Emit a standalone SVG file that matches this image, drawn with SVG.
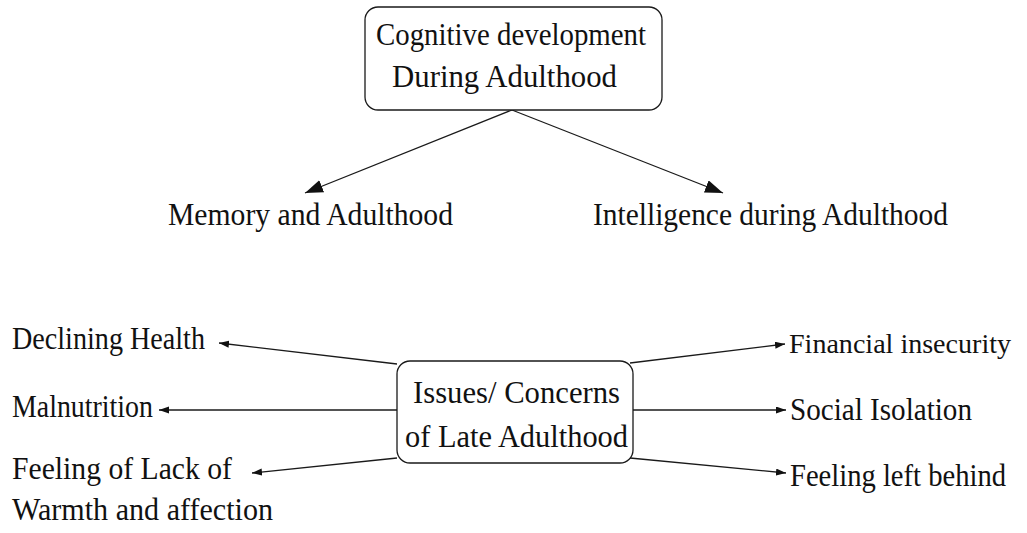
<svg xmlns="http://www.w3.org/2000/svg" width="1027" height="533" viewBox="0 0 1027 533">
  <style>
    .bg { fill: #ffffff; }
    .box { fill: #ffffff; stroke: #1a1a1a; stroke-width: 1.3; }
    .lbl { font-family: "Liberation Serif", "Times New Roman", serif; font-size: 31px; fill: #111111; }
    .fin { font-size: 28px; }
    .conn { fill: none; stroke: #1a1a1a; stroke-width: 1.3; }
  </style>
  <defs>
    <marker id="bigArrow" markerUnits="userSpaceOnUse" markerWidth="20" markerHeight="14" refX="18" refY="6.5" orient="auto">
      <path d="M0,0 L18,6.5 L0,13 z" fill="#111111"/>
    </marker>
    <marker id="smallArrow" markerUnits="userSpaceOnUse" markerWidth="12" markerHeight="8" refX="10" refY="3.5" orient="auto">
      <path d="M0,0 L10,3.5 L0,7 z" fill="#111111"/>
    </marker>
  </defs>
  <rect class="bg" x="0" y="0" width="1027" height="533"/>

  <g id="connectors">
    <path class="conn" d="M512,110 L305,193" marker-end="url(#bigArrow)"/>
    <path class="conn" d="M512,110 L723,193" marker-end="url(#bigArrow)"/>
    <path class="conn" d="M397,364 L219,343" marker-end="url(#smallArrow)"/>
    <path class="conn" d="M397,410 L159,410" marker-end="url(#smallArrow)"/>
    <path class="conn" d="M397,458 L252,473" marker-end="url(#smallArrow)"/>
    <path class="conn" d="M630,363 L785,344" marker-end="url(#smallArrow)"/>
    <path class="conn" d="M633,410 L786,410" marker-end="url(#smallArrow)"/>
    <path class="conn" d="M630,458 L786,473" marker-end="url(#smallArrow)"/>
  </g>

  <g id="cognitive-development">
    <rect class="box" x="365" y="7" width="297" height="103" rx="13" ry="13"/>
    <text class="lbl" x="376" y="45" textLength="270" lengthAdjust="spacingAndGlyphs">Cognitive development</text>
    <text class="lbl" x="392" y="87" textLength="225" lengthAdjust="spacingAndGlyphs">During Adulthood</text>
  </g>

  <g id="memory">
    <text class="lbl" x="168" y="225" textLength="285" lengthAdjust="spacingAndGlyphs">Memory and Adulthood</text>
  </g>

  <g id="intelligence">
    <text class="lbl" x="593" y="225" textLength="355" lengthAdjust="spacingAndGlyphs">Intelligence during Adulthood</text>
  </g>

  <g id="issues-concerns">
    <rect class="box" x="397" y="361" width="236" height="102" rx="13" ry="13"/>
    <text class="lbl" x="413" y="403" textLength="207" lengthAdjust="spacingAndGlyphs">Issues/ Concerns</text>
    <text class="lbl" x="405" y="447" textLength="223" lengthAdjust="spacingAndGlyphs">of Late Adulthood</text>
  </g>

  <g id="declining-health">
    <text class="lbl" x="12" y="349" textLength="193" lengthAdjust="spacingAndGlyphs">Declining Health</text>
  </g>

  <g id="malnutrition">
    <text class="lbl" x="12" y="417" textLength="141" lengthAdjust="spacingAndGlyphs">Malnutrition</text>
  </g>

  <g id="lack-of-warmth">
    <text class="lbl" x="12" y="479" textLength="220" lengthAdjust="spacingAndGlyphs">Feeling of Lack of</text>
    <text class="lbl" x="12" y="520" textLength="261" lengthAdjust="spacingAndGlyphs">Warmth and affection</text>
  </g>

  <g id="financial-insecurity">
    <text class="lbl fin" x="789" y="353" textLength="222" lengthAdjust="spacingAndGlyphs">Financial insecurity</text>
  </g>

  <g id="social-isolation">
    <text class="lbl" x="790" y="420" textLength="182" lengthAdjust="spacingAndGlyphs">Social Isolation</text>
  </g>

  <g id="feeling-left-behind">
    <text class="lbl" x="790" y="486" textLength="216" lengthAdjust="spacingAndGlyphs">Feeling left behind</text>
  </g>
</svg>
